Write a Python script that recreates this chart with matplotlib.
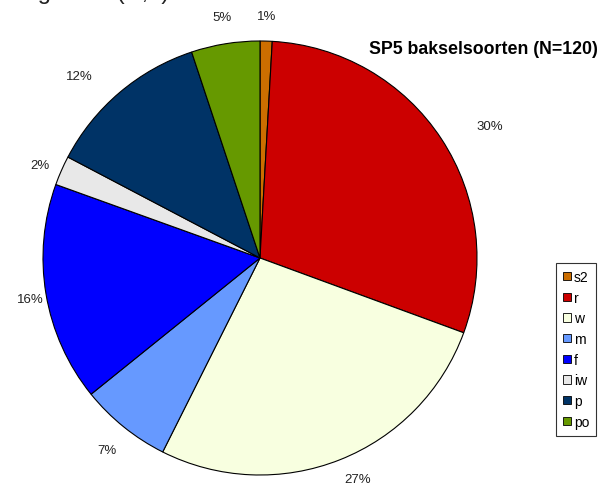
import numpy as np
import matplotlib
matplotlib.use("Agg")
import matplotlib.pyplot as plt
from matplotlib.patches import Patch

categories = ["s2", "r", "w", "m", "f", "iw", "p", "po"]
values = [0.9, 29.7, 26.8, 6.8, 16.3, 2.2, 12.2, 5.1]
pct_labels = ["1%", "30%", "27%", "7%", "16%", "2%", "12%", "5%"]
colors = ["#CC6E00", "#CC0000", "#F8FFE0", "#6699FF", "#0000FF", "#E8E8E8", "#003366", "#669900"]
title = "SP5 bakselsoorten (N=120)"

# outside label placement (style): distance in radii, angular nudge in degrees
label_dist = [1.115, 1.22, 1.115, 1.13, 1.077, 1.10, 1.18, 1.124]
label_rot = [0, -3.4, 2.3, 0.3, 0.6, 0.9, 4.4, -0.2]

plt.rcParams['font.family'] = ['Liberation Sans', 'DejaVu Sans']

W, H = 602, 485
fig = plt.figure(figsize=(W / 100, H / 100), dpi=100)
cx, cy, R = 260, 259, 217
ax = fig.add_axes([(cx - R) / W, (H - cy - R) / H, 2 * R / W, 2 * R / H])
wedges, _ = ax.pie(values, colors=colors, startangle=90, counterclock=False,
                   wedgeprops=dict(edgecolor="black", linewidth=0.8))
for w, lab, d, r in zip(wedges, pct_labels, label_dist, label_rot):
    ang = np.deg2rad((w.theta1 + w.theta2) / 2 + r)
    ax.text(d * np.cos(ang), d * np.sin(ang), lab, ha='center', va='center',
            fontsize=9.5, color="#222222", clip_on=False)
ax.set_xlim(-1, 1)
ax.set_ylim(-1, 1)
ax.set_aspect('equal')

fig.text(598 / W, 1 - 50 / H, title, fontsize=12.8, fontweight='bold',
         ha='right', va='center')

# clipped heading at top-left (only its descenders are visible)
fig.text(-48 / W, 1 + 1 / H, "Verdeling soort (N,1)", fontsize=17,
         ha='left', va='baseline', color="#222222")

handles = [Patch(facecolor=c, edgecolor='black', linewidth=0.6) for c in colors]
leg = fig.legend(handles, categories, loc='upper left',
                 bbox_to_anchor=(556 / W, 1 - 264 / H), fontsize=10,
                 frameon=True, fancybox=False, edgecolor='black',
                 handlelength=0.55, handleheight=0.55, handletextpad=0.25,
                 labelspacing=0.48, borderpad=0.5, borderaxespad=0)
leg.get_frame().set_linewidth(0.8)

fig.savefig("out.png", dpi=100)
